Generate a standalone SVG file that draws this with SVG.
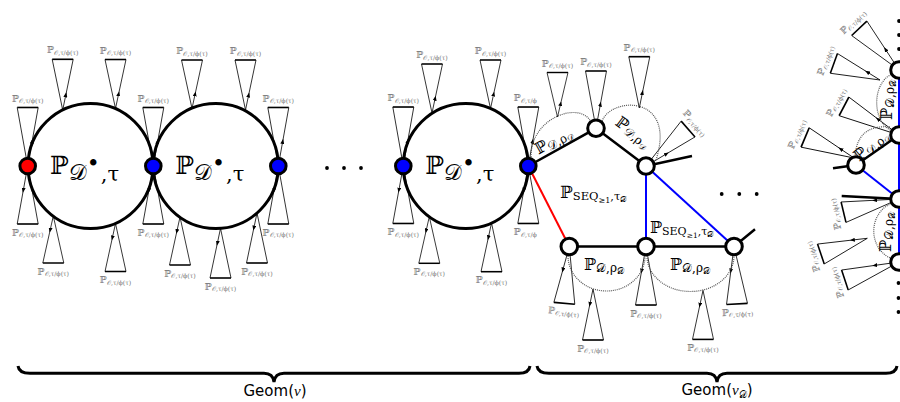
<svg xmlns="http://www.w3.org/2000/svg" width="900" height="402" viewBox="0 0 900 402">
<style>
.te{fill:none;stroke:#000;stroke-width:0.8}
.tb{fill:none;stroke:#000;stroke-width:1.6}
.lb{font-family:"DejaVu Serif","DejaVu Sans",serif;font-size:9.5px;fill:#777;text-anchor:middle}
.ls{font-size:6.3px}
.big{fill:none;stroke:#000;stroke-width:3}
.ek{stroke:#000;stroke-width:2.5;fill:none}
.er{stroke:#f00;stroke-width:2}
.eb{stroke:#00f;stroke-width:2}
.dt{fill:none;stroke:#555;stroke-width:1.2;stroke-dasharray:1 1}
.nw{fill:#fff;stroke:#000;stroke-width:3}
.nb{fill:#00f;stroke:#000;stroke-width:3}
.nr{fill:#f00;stroke:#000;stroke-width:3}
.m{font-family:"DejaVu Serif","DejaVu Sans",serif;fill:#000}
.al{font-family:"DejaVu Serif","DejaVu Sans",serif;fill:#000;font-size:16px;text-anchor:middle}
.as{font-size:12px}
.aa{font-size:8.5px}
.br{fill:none;stroke:#000;stroke-width:3}
.gm{font-family:"DejaVu Sans","Liberation Sans",sans-serif;font-size:15px;fill:#000;text-anchor:middle}
.dot{fill:#000}
</style>
<defs>
<marker id="ah" viewBox="0 0 10 8" refX="5" refY="4" markerWidth="5" markerHeight="4" orient="auto" markerUnits="userSpaceOnUse"><path d="M0 0 L10 4 L0 8 z" fill="#000"/></marker>
<g id="T"><path class="te" d="M0 0 L-10.5 -50"/><path class="te" d="M0 0 L3.15 -15 L10.5 -50" marker-mid="url(#ah)"/><path class="tb" d="M-10.5 -50 H10.5"/></g>
<g id="N"><path class="te" d="M0 0 L-10.5 -58"/><path class="te" d="M0 0 L4.41 -24.4 L10.5 -58" marker-mid="url(#ah)"/><path class="tb" d="M-10.5 -58 H10.5"/></g>
</defs>

<g id="trees">
<g id="t1" transform="translate(27.7 166)"><use href="#N" transform="scale(1 1.009)"/><text class="lb" y="-64.5">ℙ<tspan class="ls" dy="1.5">𝒪,τ/ϕ(τ)</tspan></text></g>
<g id="t2" transform="translate(27.7 166) rotate(180)"><use href="#N"/><text class="lb" transform="translate(0 -69.5) rotate(180)">ℙ<tspan class="ls" dy="1.5">𝒪,τ/ϕ(τ)</tspan></text></g>
<g id="t3" transform="translate(62.7 110)"><use href="#T" transform="scale(1 1.014)"/><text class="lb" y="-56.7">ℙ<tspan class="ls" dy="1.5">𝒪,τ/ϕ(τ)</tspan></text></g>
<g id="t4" transform="translate(115.5 108.5)"><use href="#T" transform="scale(1 0.98)"/><text class="lb" y="-55">ℙ<tspan class="ls" dy="1.5">𝒪,τ/ϕ(τ)</tspan></text></g>
<g id="t5" transform="translate(53.3 216) rotate(180)"><use href="#T" transform="scale(1 0.94)"/><text class="lb" transform="translate(0 -58.5) rotate(180)">ℙ<tspan class="ls" dy="1.5">𝒪,τ/ϕ(τ)</tspan></text></g>
<g id="t6" transform="translate(115.5 223.5) rotate(180)"><use href="#T" transform="scale(1 0.96)"/><text class="lb" transform="translate(0 -59.5) rotate(180)">ℙ<tspan class="ls" dy="1.5">𝒪,τ/ϕ(τ)</tspan></text></g>
<g id="t7" transform="translate(153.3 166)"><use href="#N" transform="scale(1 1.009)"/><text class="lb" y="-64.5">ℙ<tspan class="ls" dy="1.5">𝒪,τ/ϕ(τ)</tspan></text></g>
<g id="t8" transform="translate(153.3 166) rotate(180)"><use href="#N"/><text class="lb" transform="translate(0 -69.5) rotate(180)">ℙ<tspan class="ls" dy="1.5">𝒪,τ/ϕ(τ)</tspan></text></g>
<g id="t9" transform="translate(192 108.5)"><use href="#T" transform="scale(1 0.97)"/><text class="lb" y="-54.5">ℙ<tspan class="ls" dy="1.5">𝒪,τ/ϕ(τ)</tspan></text></g>
<g id="t10" transform="translate(245.5 110)"><use href="#T"/><text class="lb" y="-56">ℙ<tspan class="ls" dy="1.5">𝒪,τ/ϕ(τ)</tspan></text></g>
<g id="t11" transform="translate(278.3 166)"><use href="#N" transform="scale(1 1.009)"/><text class="lb" y="-64.5">ℙ<tspan class="ls" dy="1.5">𝒪,τ/ϕ(τ)</tspan></text></g>
<g id="t12" transform="translate(278.3 166) rotate(180)"><use href="#N"/><text class="lb" transform="translate(0 -69.5) rotate(180)">ℙ<tspan class="ls" dy="1.5">𝒪,τ/ϕ(τ)</tspan></text></g>
<g id="t13" transform="translate(180 217) rotate(180)"><use href="#T" transform="scale(1 0.96)"/><text class="lb" transform="translate(0 -59.5) rotate(180)">ℙ<tspan class="ls" dy="1.5">𝒪,τ/ϕ(τ)</tspan></text></g>
<g id="t14" transform="translate(220.5 228.4) rotate(180)"><use href="#T" transform="scale(1 0.992)"/><text class="lb" transform="translate(0 -61.1) rotate(180)">ℙ<tspan class="ls" dy="1.5">𝒪,τ/ϕ(τ)</tspan></text></g>
<g id="t15" transform="translate(257 213) rotate(180)"><use href="#T"/><text class="lb" transform="translate(0 -61.5) rotate(180)">ℙ<tspan class="ls" dy="1.5">𝒪,τ/ϕ(τ)</tspan></text></g>
<g id="t16" transform="translate(403.3 166)"><use href="#N" transform="scale(1 1.017)"/><text class="lb" y="-65">ℙ<tspan class="ls" dy="1.5">𝒪,τ/ϕ(τ)</tspan></text></g>
<g id="t17" transform="translate(403.3 166) rotate(180)"><use href="#N" transform="scale(1 0.991)"/><text class="lb" transform="translate(0 -69) rotate(180)">ℙ<tspan class="ls" dy="1.5">𝒪,τ/ϕ(τ)</tspan></text></g>
<g id="t18" transform="translate(432 113)"><use href="#T" transform="scale(1 0.98)"/><text class="lb" y="-55">ℙ<tspan class="ls" dy="1.5">𝒪,τ/ϕ(τ)</tspan></text></g>
<g id="t19" transform="translate(490.5 108.6)"><use href="#T" transform="scale(1 0.972)"/><text class="lb" y="-54.6">ℙ<tspan class="ls" dy="1.5">𝒪,τ/ϕ(τ)</tspan></text></g>
<g id="t20" transform="translate(429.3 216.7) rotate(180)"><use href="#T" transform="scale(1 0.932)"/><text class="lb" transform="translate(0 -58.1) rotate(180)">ℙ<tspan class="ls" dy="1.5">𝒪,τ/ϕ(τ)</tspan></text></g>
<g id="t21" transform="translate(491.5 223) rotate(180)"><use href="#T" transform="scale(1 0.974)"/><text class="lb" transform="translate(0 -60.2) rotate(180)">ℙ<tspan class="ls" dy="1.5">𝒪,τ/ϕ(τ)</tspan></text></g>
<g id="t22" transform="translate(528.3 166)"><use href="#N" transform="scale(1 1.017)"/><text class="lb" x="-3" y="-65">ℙ<tspan class="ls" dy="1.5">𝒪,τ/ϕ</tspan></text></g>
<g id="t23" transform="translate(528.3 166) rotate(180)"><use href="#N" transform="scale(1 0.991)"/><text class="lb" transform="translate(3 -69) rotate(180)">ℙ<tspan class="ls" dy="1.5">𝒪,τ/ϕ</tspan></text></g>
<g id="t24" transform="translate(557.5 117)"><use href="#T" transform="scale(1 0.89)"/><text class="lb" y="-50.5">ℙ<tspan class="ls" dy="1.5">𝒪,τ/ϕ(τ)</tspan></text></g>
<g id="t25" transform="translate(596 128.3)"><use href="#N" transform="scale(1 0.988)"/><text class="lb" y="-63.3">ℙ<tspan class="ls" dy="1.5">𝒪,τ/ϕ(τ)</tspan></text></g>
<g id="t26" transform="translate(639.3 108)"><use href="#T" transform="scale(1 1.026)"/><text class="lb" y="-57.3">ℙ<tspan class="ls" dy="1.5">𝒪,τ/ϕ(τ)</tspan></text></g>
<g id="t27" transform="translate(646 166) rotate(48.7)"><use href="#N" transform="scale(1 0.966)"/><text class="lb" y="-62">ℙ<tspan class="ls" dy="1.5">𝒪,τ/ϕ(τ)</tspan></text></g>
<g id="t28" transform="translate(569.3 246.5) rotate(185)"><use href="#N" transform="scale(1 0.983)"/><text class="lb" transform="translate(0 -68.5) rotate(180)">ℙ<tspan class="ls" dy="1.5">𝒪,τ/ϕ(τ)</tspan></text></g>
<g id="t29" transform="translate(593 289) rotate(180)"><use href="#T" transform="scale(1 1.02)"/><text class="lb" transform="translate(0 -62.5) rotate(180)">ℙ<tspan class="ls" dy="1.5">𝒪,τ/ϕ(τ)</tspan></text></g>
<g id="t30" transform="translate(646 246.5) rotate(180)"><use href="#N" transform="scale(1 1.009)"/><text class="lb" transform="translate(0 -70) rotate(180)">ℙ<tspan class="ls" dy="1.5">𝒪,τ/ϕ(τ)</tspan></text></g>
<g id="t31" transform="translate(703 290.4) rotate(180)"><use href="#T" transform="scale(1 0.98)"/><text class="lb" transform="translate(0 -60.5) rotate(180)">ℙ<tspan class="ls" dy="1.5">𝒪,τ/ϕ(τ)</tspan></text></g>
<g id="t32" transform="translate(734 246.5) rotate(177)"><use href="#N" transform="scale(1 0.991)"/><text class="lb" transform="translate(0 -69) rotate(180)">ℙ<tspan class="ls" dy="1.5">𝒪,τ/ϕ(τ)</tspan></text></g>
<g id="t33" transform="translate(899 70) rotate(-43.6)"><use href="#N" transform="scale(1 0.993)"/><text class="lb" y="-63.6">ℙ<tspan class="ls" dy="1.5">𝒪,τ/ϕ(τ)</tspan></text></g>
<g id="t34" transform="translate(880 80) rotate(-70.2)"><use href="#T" transform="scale(1 0.98)"/><text class="lb" y="-55">ℙ<tspan class="ls" dy="1.5">𝒪,τ/ϕ(τ)</tspan></text></g>
<g id="t35" transform="translate(899 135) rotate(-62.5)"><use href="#N" transform="scale(1 1.069)"/><text class="lb" y="-68">ℙ<tspan class="ls" dy="1.5">𝒪,τ/ϕ(τ)</tspan></text></g>
<g id="t36" transform="translate(854 158) rotate(-67.2)"><use href="#T" transform="scale(1 1.06)"/><text class="lb" y="-59">ℙ<tspan class="ls" dy="1.5">𝒪,τ/ϕ(τ)</tspan></text></g>
<g id="t37" transform="translate(899 199) rotate(-103.4)"><use href="#N" transform="scale(1 0.983)"/><text class="lb" y="-63">ℙ<tspan class="ls" dy="1.5">𝒪,τ/ϕ(τ)</tspan></text></g>
<g id="t38" transform="translate(867.3 238.3) rotate(-108.7)"><use href="#T" transform="scale(1 0.98)"/><text class="lb" y="-55">ℙ<tspan class="ls" dy="1.5">𝒪,τ/ϕ(τ)</tspan></text></g>
<g id="t39" transform="translate(899 262) rotate(-108.4)"><use href="#N" transform="scale(1 0.983)"/><text class="lb" y="-63">ℙ<tspan class="ls" dy="1.5">𝒪,τ/ϕ(τ)</tspan></text></g>
</g>

<g id="connectors">
<circle class="big" cx="90.5" cy="166" r="62.5"/>
<circle class="big" cx="215.8" cy="166" r="62.5"/>
<circle class="big" cx="465.8" cy="166" r="62.5"/>
<path class="dt" d="M531 157 C530 118 580 100 591 122"/>
<path class="dt" d="M602 121 C612 96 677 95 656 160"/>
<path class="dt" d="M568 256 A38.5 35 0 0 0 645 256"/>
<path class="dt" d="M647 256 A43.5 35.5 0 0 0 734 256"/>
<path class="dt" d="M893 74 A20 29 0 0 0 893 131"/>
<path class="dt" d="M890 127 Q857 124 855 157"/>
<path class="dt" d="M893 203 A26 29 0 0 0 893 259"/>
<line class="er" x1="528.3" y1="166" x2="569.3" y2="246.5"/>
<line class="eb" x1="646" y1="166" x2="646" y2="246.5"/>
<line class="eb" x1="646" y1="166" x2="734" y2="246.5"/>
<line class="eb" x1="899" y1="70" x2="899" y2="262"/>
<line class="eb" x1="856" y1="165" x2="899" y2="199"/>
<path class="ek" d="M528.3 166 L596 128.3 L646 166 M569.3 246.5 H734 M646 166 L692 156 M734 246.5 L755 229.3 M856 165 L899 135 M833 168.3 L856 165 M841.7 196 L899 199"/>
</g>

<g id="nodes">
<circle id="n1" class="nr" cx="27.7" cy="166" r="7.8"/>
<circle id="n2" class="nb" cx="153.3" cy="166" r="7.8"/>
<circle id="n3" class="nb" cx="278.3" cy="166" r="7.8"/>
<circle id="n4" class="nb" cx="403.3" cy="166" r="7.8"/>
<circle id="n5" class="nb" cx="528.3" cy="166" r="7.8"/>
<circle id="nA" class="nw" cx="596" cy="128.3" r="8.3"/>
<circle id="nB" class="nw" cx="646" cy="166" r="8.3"/>
<circle id="nC" class="nw" cx="569.3" cy="246.5" r="8.3"/>
<circle id="nD" class="nw" cx="646" cy="246.5" r="8.3"/>
<circle id="nE" class="nw" cx="734" cy="246.5" r="8.3"/>
<circle id="nF1" class="nw" cx="899" cy="70" r="8.3"/>
<circle id="nF2" class="nw" cx="899" cy="135" r="8.3"/>
<circle id="nW" class="nw" cx="856" cy="165" r="8.3"/>
<circle id="nF3" class="nw" cx="899" cy="199" r="8.3"/>
<circle id="nF4" class="nw" cx="899" cy="262" r="8.3"/>
</g>

<g id="dots">
<circle class="dot" cx="327" cy="168" r="1.9"/><circle class="dot" cx="344" cy="168" r="1.9"/><circle class="dot" cx="361" cy="168" r="1.9"/>
<circle class="dot" cx="721.7" cy="194" r="1.9"/><circle class="dot" cx="739.3" cy="194" r="1.9"/><circle class="dot" cx="756.7" cy="194" r="1.9"/>
<circle class="dot" cx="899" cy="21" r="1.9"/><circle class="dot" cx="899" cy="35" r="1.9"/><circle class="dot" cx="899" cy="49" r="1.9"/>
<circle class="dot" cx="898.5" cy="283" r="1.9"/><circle class="dot" cx="898.5" cy="298" r="1.9"/><circle class="dot" cx="898.5" cy="312" r="1.9"/>
</g>

<g id="labels">
<text class="m" x="50" y="174" font-size="25">ℙ<tspan font-size="22" dy="6">𝒟</tspan><tspan font-size="22" dy="-9">•</tspan><tspan font-size="21" dx="1" dy="10">,τ</tspan></text>
<text class="m" x="175.3" y="174" font-size="25">ℙ<tspan font-size="22" dy="6">𝒟</tspan><tspan font-size="22" dy="-9">•</tspan><tspan font-size="21" dx="1" dy="10">,τ</tspan></text>
<text class="m" x="425.3" y="174" font-size="25">ℙ<tspan font-size="22" dy="6">𝒟</tspan><tspan font-size="22" dy="-9">•</tspan><tspan font-size="21" dx="1" dy="10">,τ</tspan></text>
<text class="al" transform="translate(554 141.7) rotate(-29)" y="4">ℙ<tspan class="as" dy="2">𝒟,ρ</tspan><tspan class="aa" dy="2">𝒟</tspan></text>
<text class="al" transform="translate(632.5 133) rotate(37)" y="4">ℙ<tspan class="as" dy="2">𝒟,ρ</tspan><tspan class="aa" dy="2">𝒟</tspan></text>
<text class="al" x="604" y="270">ℙ<tspan class="as" dy="2">𝒟,ρ</tspan><tspan class="aa" dy="2">𝒟</tspan></text>
<text class="al" x="690" y="270">ℙ<tspan class="as" dy="2">𝒟,ρ</tspan><tspan class="aa" dy="2">𝒟</tspan></text>
<text class="al" transform="translate(888 100) rotate(-90)" y="4">ℙ<tspan class="as" dy="2">𝒟,ρ</tspan><tspan class="aa" dy="2">𝒟</tspan></text>
<text class="al" transform="translate(872 146) rotate(-40)" y="4">ℙ<tspan class="as" dy="2">𝒟,ρ</tspan><tspan class="aa" dy="2">𝒟</tspan></text>
<text class="al" transform="translate(886.7 232) rotate(-90)" y="4">ℙ<tspan class="as" dy="2">𝒟,ρ</tspan><tspan class="aa" dy="2">𝒟</tspan></text>
<text class="m" x="560" y="198" font-size="17" fill="#444">ℙ<tspan font-size="11.5" dy="2">SEQ</tspan><tspan font-size="8" dy="2.5">≥1</tspan><tspan font-size="11.5" dy="-2.5">,τ</tspan><tspan font-size="8" dy="2">𝒟</tspan></text>
<text class="m" x="650" y="233" font-size="16" fill="#444">ℙ<tspan font-size="11" dy="2">SEQ</tspan><tspan font-size="7.5" dy="2.5">≥1</tspan><tspan font-size="11" dy="-2.5">,τ</tspan><tspan font-size="7.5" dy="2">𝒟</tspan></text>
</g>

<g id="braces">
<path class="br" d="M18 366 Q19 373.3 30 373.3 L264 373.3 Q273 373.3 274 382 Q275 373.3 284 373.3 L519 373.3 Q529 373.3 530 366"/>
<path class="br" d="M537 366 Q538 373.3 549 373.3 L707 373.3 Q716 373.3 717 382 Q718 373.3 727 373.3 L886 373.3 Q896 373.3 897 366"/>
<text class="gm" x="275" y="396">Geom(<tspan font-family="Liberation Serif" font-style="italic">ν</tspan>)</text>
<text class="gm" x="717" y="395">Geom(<tspan font-family="Liberation Serif" font-style="italic">ν</tspan><tspan font-family="DejaVu Serif" font-size="10" dy="2.5">𝒟</tspan><tspan dy="-2.5">)</tspan></text>
</g>
</svg>
